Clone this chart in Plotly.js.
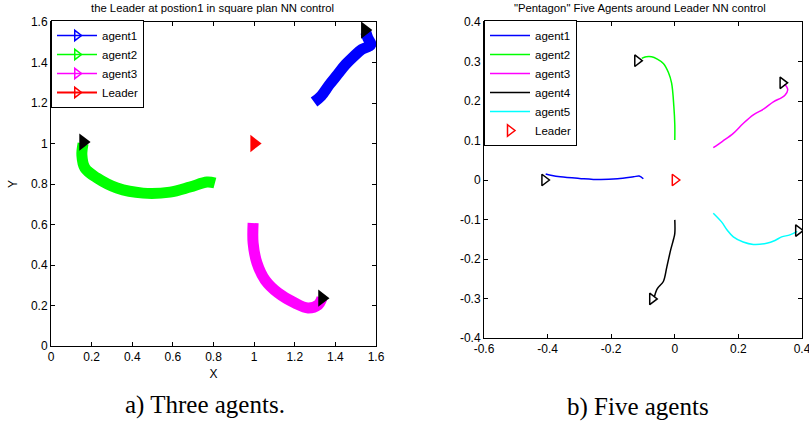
<!DOCTYPE html>
<html>
<head>
<meta charset="utf-8">
<script src="https://cdn.plot.ly/plotly-3.0.1.min.js"></script>
<style>html,body{margin:0;padding:0;background:#fff}#chart{width:809px;height:427px}</style>
</head>
<body>
<div id="chart"></div>
<script>
// ---------- Panel a) three agents ----------
const a1X = [1.295, 1.33, 1.37, 1.41, 1.45, 1.49, 1.53, 1.565, 1.575, 1.56, 1.55];
const a1Y = [1.205, 1.235, 1.29, 1.34, 1.39, 1.43, 1.465, 1.48, 1.49, 1.52, 1.55];
const a2X = [0.807, 0.768, 0.684, 0.586, 0.453, 0.325, 0.226, 0.167, 0.152, 0.158];
const a2Y = [0.805, 0.81, 0.785, 0.76, 0.755, 0.78, 0.83, 0.879, 0.943, 1.0];
const a3X = [0.995, 0.995, 1.014, 1.054, 1.118, 1.201, 1.265, 1.315, 1.334];
const a3Y = [0.607, 0.509, 0.41, 0.326, 0.262, 0.212, 0.188, 0.203, 0.236];
const aEndX = [1.545, 0.158, 1.334];
const aEndY = [1.56, 1.007, 0.236];
const aLeaderX = [1.0];
const aLeaderY = [1.0];
const aNames = ["agent1", "agent2", "agent3", "Leader"];
const aColors = ["#0000ff", "#00ff00", "#ff00ff", "#ff0000"];
const aTicksX = [0, 0.2, 0.4, 0.6, 0.8, 1, 1.2, 1.4, 1.6];
const aTicksXText = ["0", "0.2", "0.4", "0.6", "0.8", "1", "1.2", "1.4", "1.6"];
const aTicksY = [0, 0.2, 0.4, 0.6, 0.8, 1, 1.2, 1.4, 1.6];
const aTicksYText = ["0", "0.2", "0.4", "0.6", "0.8", "1", "1.2", "1.4", "1.6"];

// ---------- Panel b) five agents ----------
const b1X = [-0.406, -0.39, -0.36, -0.3, -0.235, -0.18, -0.13, -0.112, -0.099];
const b1Y = [0.015, 0.012, 0.008, 0.004, 0.001, 0.003, 0.008, 0.01, 0.003];
const b2X = [-0.104, -0.09, -0.073, -0.055, -0.036, -0.02, -0.01, -0.003, 0.0, 0.0];
const b2Y = [0.308, 0.312, 0.312, 0.306, 0.295, 0.272, 0.245, 0.186, 0.14, 0.101];
const b3X = [0.121, 0.15, 0.184, 0.215, 0.247, 0.28, 0.31, 0.335, 0.347, 0.355, 0.352, 0.345];
const b3Y = [0.082, 0.098, 0.118, 0.143, 0.165, 0.18, 0.198, 0.208, 0.215, 0.228, 0.236, 0.242];
const b4X = [0.0, 0.0, -0.004, -0.013, -0.025, -0.036, -0.05, -0.057, -0.064];
const b4Y = [-0.101, -0.135, -0.15, -0.177, -0.22, -0.257, -0.27, -0.278, -0.295];
const b5X = [0.121, 0.147, 0.165, 0.184, 0.215, 0.247, 0.289, 0.315, 0.336, 0.362, 0.385];
const b5Y = [-0.084, -0.106, -0.127, -0.144, -0.157, -0.163, -0.16, -0.153, -0.144, -0.139, -0.13];
const bEndX = [-0.41, -0.118, 0.339, -0.071, 0.388];
const bEndY = [0.0, 0.302, 0.246, -0.301, -0.128];
const bLeaderX = [0.0];
const bLeaderY = [0.0];
const bNames = ["agent1", "agent2", "agent3", "agent4", "agent5", "Leader"];
const bColors = ["#0000ff", "#00ff00", "#ff00ff", "#000000", "#00ffff", "#ff0000"];
const bTicksX = [-0.6, -0.4, -0.2, 0, 0.2, 0.4];
const bTicksXText = ["-0.6", "-0.4", "-0.2", "0", "0.2", "0.4"];
const bTicksY = [-0.4, -0.3, -0.2, -0.1, 0, 0.1, 0.2, 0.3, 0.4];
const bTicksYText = ["-0.4", "-0.3", "-0.2", "-0.1", "0", "0.1", "0.2", "0.3", "0.4"];

const traces = [];
// band trajectories (panel a)
[[a1X, a1Y], [a2X, a2Y], [a3X, a3Y]].forEach((p, i) => {
  traces.push({x: p[0], y: p[1], xaxis: 'x', yaxis: 'y', mode: 'lines', showlegend: false,
    line: {color: aColors[i], width: 11, shape: 'spline'}});
});
traces.push({x: aEndX, y: aEndY, xaxis: 'x', yaxis: 'y', mode: 'markers', showlegend: false,
  marker: {symbol: 'triangle-right', size: 15, color: '#000000'}});
traces.push({x: aLeaderX, y: aLeaderY, xaxis: 'x', yaxis: 'y', mode: 'markers', showlegend: false,
  marker: {symbol: 'triangle-right', size: 15, color: '#ff0000'}});
// legend entries (panel a)
aNames.forEach((n, i) => {
  traces.push({x: [null], y: [null], xaxis: 'x', yaxis: 'y', mode: 'lines+markers', name: n, legend: 'legend',
    line: {color: aColors[i], width: i === 3 ? 2 : 1.5},
    marker: {symbol: 'triangle-right-open', size: 9, color: aColors[i], line: {width: 1.5}}});
});

// panel b trajectories
[[b1X, b1Y], [b2X, b2Y], [b3X, b3Y], [b4X, b4Y], [b5X, b5Y]].forEach((p, i) => {
  traces.push({x: p[0], y: p[1], xaxis: 'x2', yaxis: 'y2', mode: 'lines', name: bNames[i], legend: 'legend2',
    line: {color: bColors[i], width: 1.5, shape: 'spline'}});
});
traces.push({x: bLeaderX, y: bLeaderY, xaxis: 'x2', yaxis: 'y2', mode: 'markers', name: bNames[5], legend: 'legend2',
  marker: {symbol: 'triangle-right-open', size: 10, color: '#ff0000', line: {width: 1.5}}});
traces.push({x: bEndX, y: bEndY, xaxis: 'x2', yaxis: 'y2', mode: 'markers', showlegend: false,
  marker: {symbol: 'triangle-right-open', size: 10, color: '#000000', line: {width: 1.5}}});

const axBase = {showgrid: false, zeroline: false, showline: true, linecolor: '#000', linewidth: 1,
  mirror: 'ticks', ticks: 'inside', ticklen: 4, tickcolor: '#000', tickwidth: 1,
  ticklabeloverflow: 'allow',
  tickfont: {family: 'Liberation Sans, Arial, sans-serif', size: 12, color: '#000'}, fixedrange: true};

const layout = {
  width: 809, height: 427, margin: {l: 0, r: 0, t: 0, b: 0},
  paper_bgcolor: '#fff', plot_bgcolor: '#fff',
  font: {family: 'Liberation Sans, Arial, sans-serif', color: '#000'},
  xaxis: Object.assign({}, axBase, {domain: [51/809, 376/809], range: [0, 1.6], anchor: 'y',
    tickvals: aTicksX, ticktext: aTicksXText,
    title: {text: 'X', font: {size: 12}, standoff: 6}}),
  yaxis: Object.assign({}, axBase, {domain: [81/427, 405/427], range: [0, 1.6], anchor: 'x',
    tickvals: aTicksY, ticktext: aTicksYText,
    title: {text: 'Y', font: {size: 12}, standoff: 10}}),
  xaxis2: Object.assign({}, axBase, {domain: [484/809, 802/809], range: [-0.6, 0.4], anchor: 'y2',
    tickvals: bTicksX, ticktext: bTicksXText}),
  yaxis2: Object.assign({}, axBase, {domain: [89/427, 405/427], range: [-0.4, 0.4], anchor: 'x2',
    tickvals: bTicksY, ticktext: bTicksYText}),
  legend: {x: 51/809, y: 1 - 20/427, xanchor: 'left', yanchor: 'top', bgcolor: '#fff',
    bordercolor: '#000', borderwidth: 1, font: {size: 11.5}, itemwidth: 40, tracegroupgap: 0},
  legend2: {x: 484/809, y: 1 - 20/427, xanchor: 'left', yanchor: 'top', bgcolor: '#fff',
    bordercolor: '#000', borderwidth: 1, font: {size: 11.5}, itemwidth: 40, tracegroupgap: 0},
  annotations: [
    {text: 'the Leader at postion1 in square plan NN control', xref: 'paper', yref: 'paper',
     x: 212/809, y: 1 - 8/427, xanchor: 'center', yanchor: 'middle', showarrow: false, font: {size: 11.3}},
    {text: '"Pentagon" Five Agents around Leader NN control', xref: 'paper', yref: 'paper',
     x: 640/809, y: 1 - 8/427, xanchor: 'center', yanchor: 'middle', showarrow: false, font: {size: 11.3}},
    {text: 'a) Three agents.', xref: 'paper', yref: 'paper',
     x: 205/809, y: 1 - 405/427, xanchor: 'center', yanchor: 'middle', showarrow: false,
     font: {family: 'Liberation Serif, Times New Roman, serif', size: 25}},
    {text: 'b) Five agents', xref: 'paper', yref: 'paper',
     x: 638/809, y: 1 - 407/427, xanchor: 'center', yanchor: 'middle', showarrow: false,
     font: {family: 'Liberation Serif, Times New Roman, serif', size: 25}}
  ]
};

Plotly.newPlot('chart', traces, layout, {displayModeBar: false, staticPlot: true});
</script>
</body>
</html>
